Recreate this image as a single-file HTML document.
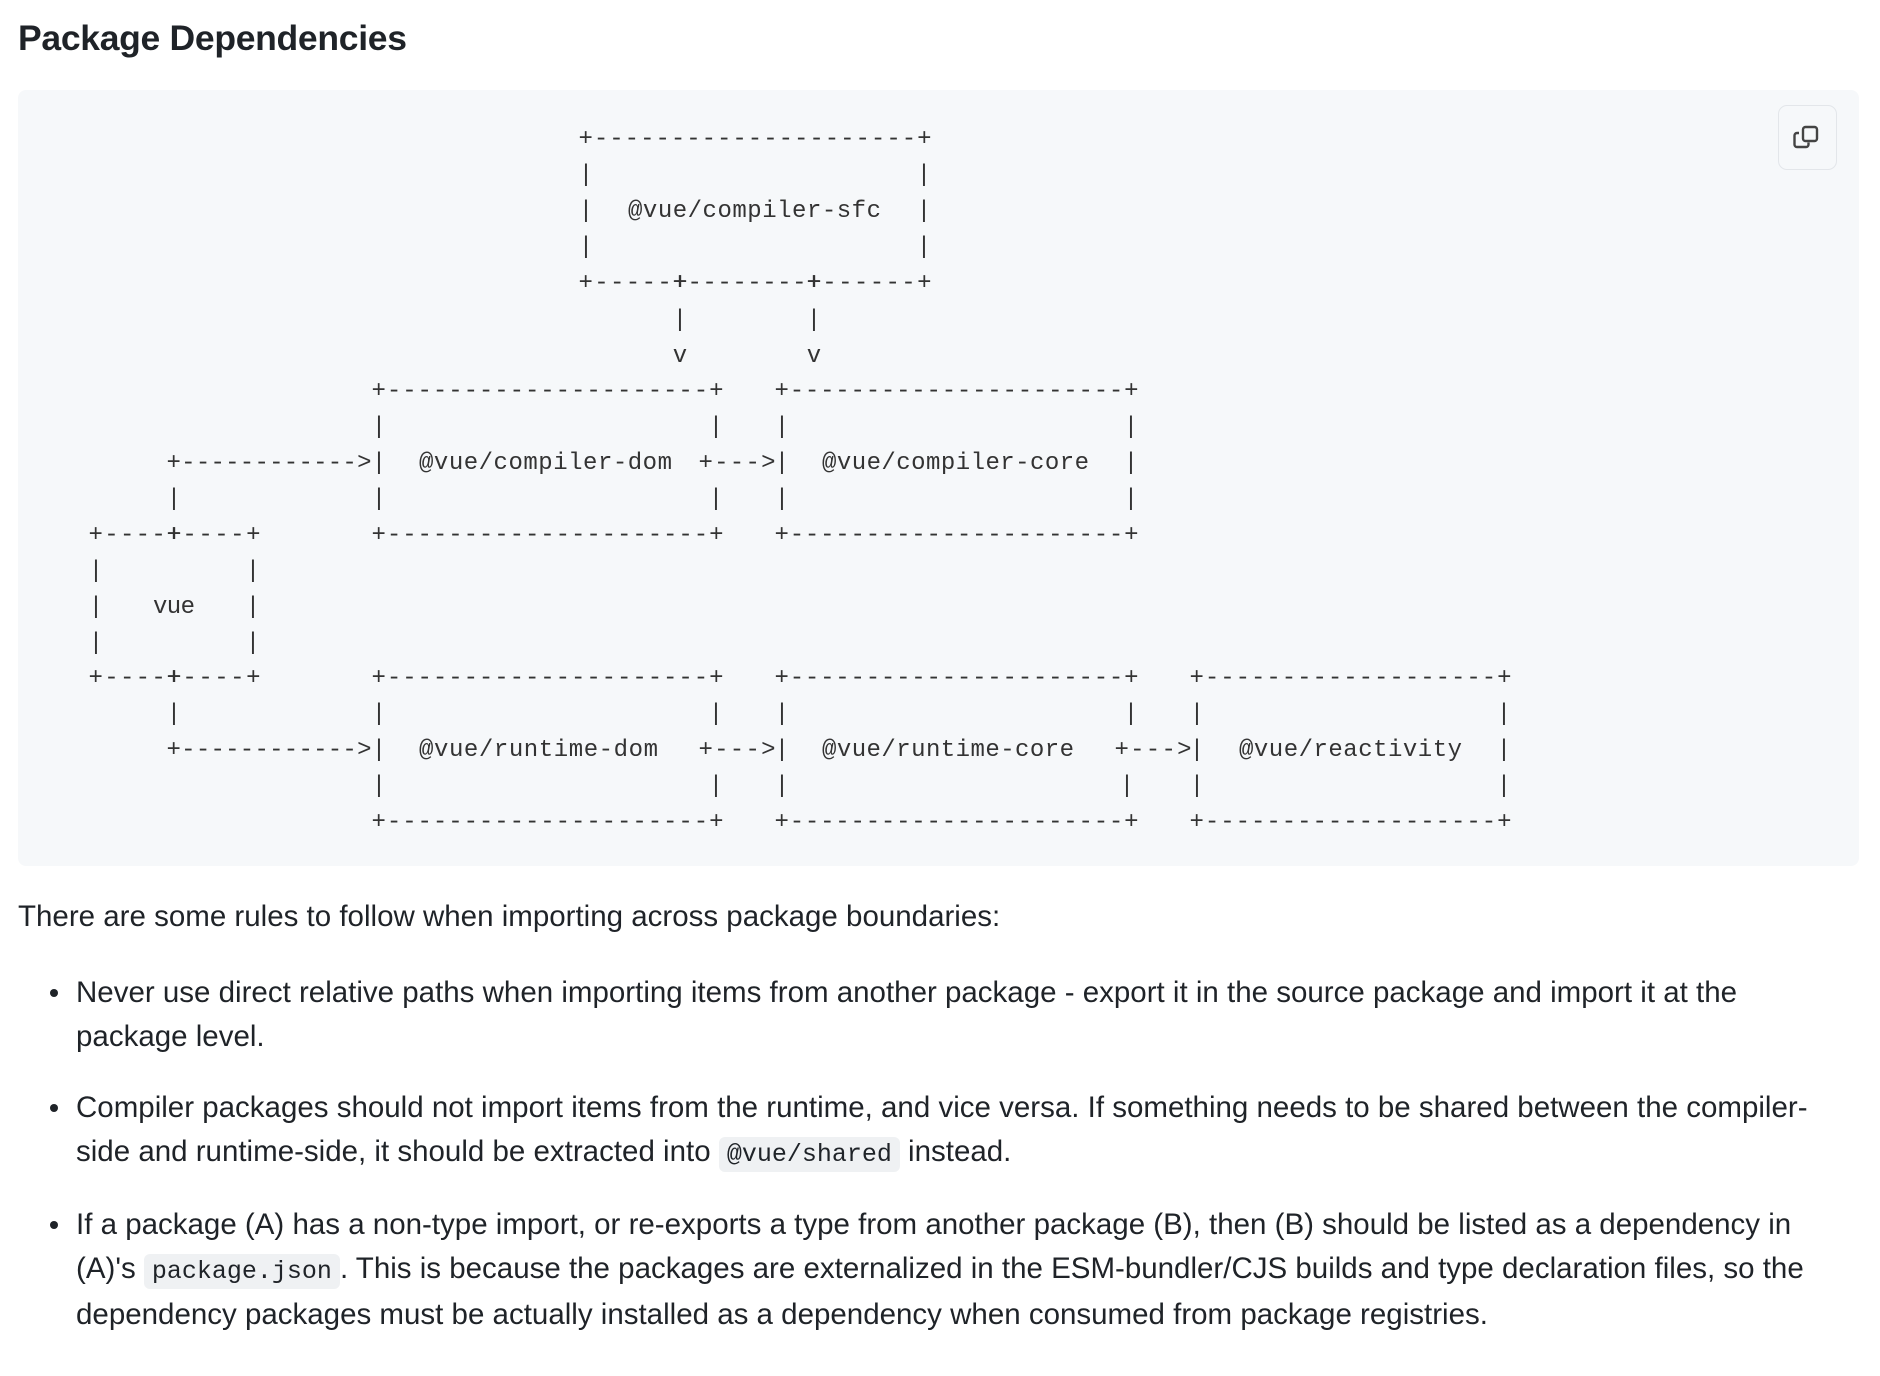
<!DOCTYPE html>
<html><head><meta charset="utf-8"><style>
html,body{margin:0;padding:0;background:#fff;width:1880px;height:1376px;overflow:hidden;position:relative;font-family:"Liberation Sans",sans-serif;color:#1f2328}
.t{position:absolute;white-space:nowrap}
h1{position:absolute;left:18px;top:18px;margin:0;font-size:35.5px;font-weight:bold;letter-spacing:-0.3px}
.code{position:absolute;left:18px;top:90px;width:1841px;height:776px;background:#f6f8fa;border-radius:8px}
.btn{position:absolute;left:1778px;top:105px;width:57px;height:63px;border:1.5px solid #e3e6ea;border-radius:9px;background:#f6f8fa}
p.t{margin:0;font-size:29.5px;line-height:44px}
.li{position:absolute;left:76px;font-size:29.5px;line-height:43.5px;margin:0;white-space:nowrap}
.dot{position:absolute;left:50px;width:8px;height:8px;border-radius:50%;background:#1f2328}
code{font-family:"Liberation Mono",monospace;font-size:25px;background:#eff1f3;border-radius:6px;padding:3px 8px}
</style></head><body>
<h1>Package Dependencies</h1>
<div class="code"></div>
<div class="btn"><svg width="57" height="63" viewBox="0 0 57 63"><rect x="24" y="21" width="14" height="14" rx="2.5" fill="none" stroke="#444" stroke-width="2.4"/><path d="M20 27 h-2 a2.5 2.5 0 0 0 -2.5 2.5 v9 a2.5 2.5 0 0 0 2.5 2.5 h9 a2.5 2.5 0 0 0 2.5 -2.5 v-2" fill="none" stroke="#444" stroke-width="2.4"/></svg></div>
<svg style="position:absolute;left:0;top:0" width="1880" height="900" font-family="Liberation Mono, monospace" font-size="24" fill="#333">
<g>
<text x="578.5" y="145" textLength="353" lengthAdjust="spacing">+---------------------+</text>
<text x="586" y="181" text-anchor="middle">|</text><text x="924" y="181" text-anchor="middle">|</text>
<text x="586" y="217" text-anchor="middle">|</text><text x="924" y="217" text-anchor="middle">|</text>
<text x="628" y="217" textLength="253" lengthAdjust="spacing">@vue/compiler-sfc</text>
<text x="586" y="253" text-anchor="middle">|</text><text x="924" y="253" text-anchor="middle">|</text>
<text x="578.5" y="289" textLength="109" lengthAdjust="spacing">+-----+</text>
<text x="672.5" y="289" textLength="149" lengthAdjust="spacing">+--------+</text>
<text x="806.5" y="289" textLength="125" lengthAdjust="spacing">+------+</text>
<text x="680" y="326" text-anchor="middle">|</text><text x="814" y="326" text-anchor="middle">|</text>
<text x="680" y="362" text-anchor="middle">v</text><text x="814" y="362" text-anchor="middle">v</text>
<text x="371.5" y="397" textLength="352" lengthAdjust="spacing">+---------------------+</text>
<text x="774.5" y="397" textLength="364" lengthAdjust="spacing">+----------------------+</text>
<text x="379" y="433" text-anchor="middle">|</text><text x="716" y="433" text-anchor="middle">|</text><text x="782" y="433" text-anchor="middle">|</text><text x="1131" y="433" text-anchor="middle">|</text>
<text x="166.5" y="469" textLength="205" lengthAdjust="spacing">+------------&gt;</text>
<text x="379" y="469" text-anchor="middle">|</text>
<text x="419" y="469" textLength="253" lengthAdjust="spacing">@vue/compiler-dom</text>
<text x="698.5" y="469" textLength="77" lengthAdjust="spacing">+---&gt;</text>
<text x="782" y="469" text-anchor="middle">|</text>
<text x="822" y="469" textLength="267" lengthAdjust="spacing">@vue/compiler-core</text>
<text x="1131" y="469" text-anchor="middle">|</text>
<text x="174" y="505" text-anchor="middle">|</text>
<text x="379" y="505" text-anchor="middle">|</text><text x="716" y="505" text-anchor="middle">|</text><text x="782" y="505" text-anchor="middle">|</text><text x="1131" y="505" text-anchor="middle">|</text>
<text x="88.5" y="541" textLength="93" lengthAdjust="spacing">+----+</text><text x="166.5" y="541" textLength="94" lengthAdjust="spacing">+----+</text>
<text x="371.5" y="541" textLength="352" lengthAdjust="spacing">+---------------------+</text>
<text x="774.5" y="541" textLength="364" lengthAdjust="spacing">+----------------------+</text>
<text x="96" y="577" text-anchor="middle">|</text><text x="253" y="577" text-anchor="middle">|</text>
<text x="96" y="613" text-anchor="middle">|</text><text x="253" y="613" text-anchor="middle">|</text>
<text x="153" y="613" textLength="42" lengthAdjust="spacing">vue</text>
<text x="96" y="649" text-anchor="middle">|</text><text x="253" y="649" text-anchor="middle">|</text>
<text x="88.5" y="684" textLength="93" lengthAdjust="spacing">+----+</text><text x="166.5" y="684" textLength="94" lengthAdjust="spacing">+----+</text>
<text x="371.5" y="684" textLength="352" lengthAdjust="spacing">+---------------------+</text>
<text x="774.5" y="684" textLength="364" lengthAdjust="spacing">+----------------------+</text>
<text x="1189.5" y="684" textLength="322" lengthAdjust="spacing">+-------------------+</text>
<text x="174" y="720" text-anchor="middle">|</text>
<text x="379" y="720" text-anchor="middle">|</text><text x="716" y="720" text-anchor="middle">|</text><text x="782" y="720" text-anchor="middle">|</text><text x="1131" y="720" text-anchor="middle">|</text><text x="1197" y="720" text-anchor="middle">|</text><text x="1504" y="720" text-anchor="middle">|</text>
<text x="166.5" y="756" textLength="205" lengthAdjust="spacing">+------------&gt;</text>
<text x="379" y="756" text-anchor="middle">|</text>
<text x="419" y="756" textLength="239" lengthAdjust="spacing">@vue/runtime-dom</text>
<text x="698.5" y="756" textLength="77" lengthAdjust="spacing">+---&gt;</text>
<text x="782" y="756" text-anchor="middle">|</text>
<text x="822" y="756" textLength="252" lengthAdjust="spacing">@vue/runtime-core</text>
<text x="1114.5" y="756" textLength="77" lengthAdjust="spacing">+---&gt;</text>
<text x="1197" y="756" text-anchor="middle">|</text>
<text x="1239" y="756" textLength="223" lengthAdjust="spacing">@vue/reactivity</text>
<text x="1504" y="756" text-anchor="middle">|</text>
<text x="379" y="792" text-anchor="middle">|</text><text x="716" y="792" text-anchor="middle">|</text><text x="782" y="792" text-anchor="middle">|</text><text x="1127" y="792" text-anchor="middle">|</text><text x="1197" y="792" text-anchor="middle">|</text><text x="1504" y="792" text-anchor="middle">|</text>
<text x="371.5" y="828" textLength="352" lengthAdjust="spacing">+---------------------+</text>
<text x="774.5" y="828" textLength="364" lengthAdjust="spacing">+----------------------+</text>
<text x="1189.5" y="828" textLength="322" lengthAdjust="spacing">+-------------------+</text>
</g>
</svg>
<p class="t" style="left:18px;top:895px">There are some rules to follow when importing across package boundaries:</p>
<div class="dot" style="top:989px"></div>
<div class="li" style="top:971px">Never use direct relative paths when importing items from another package - export it in the source package and import it at the<br>package level.</div>
<div class="dot" style="top:1104px"></div>
<div class="li" style="top:1086px">Compiler packages should not import items from the runtime, and vice versa. If something needs to be shared between the compiler-<br>side and runtime-side, it should be extracted into <code>@vue/shared</code> instead.</div>
<div class="dot" style="top:1221px"></div>
<div class="li" style="top:1203px">If a package (A) has a non-type import, or re-exports a type from another package (B), then (B) should be listed as a dependency in<br>(A)'s <code>package.json</code>. This is because the packages are externalized in the ESM-bundler/CJS builds and type declaration files, so the<br>dependency packages must be actually installed as a dependency when consumed from package registries.</div>
</body></html>
